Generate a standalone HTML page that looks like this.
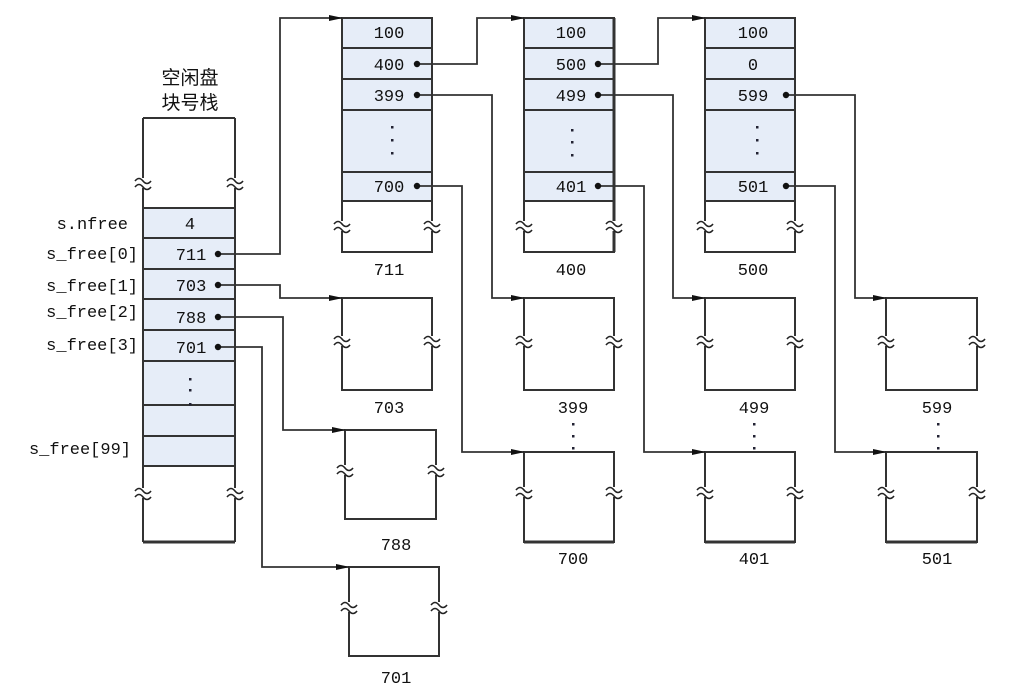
<!DOCTYPE html>
<html><head><meta charset="utf-8"><style>
html,body{margin:0;padding:0;background:#fff;}
svg{display:block;}
text{font-family:"Liberation Mono","Noto Sans CJK SC",monospace;font-size:17px;fill:#111;}
.c{text-anchor:middle;}
.r{text-anchor:end;}
</style></head><body>
<svg width="1022" height="693" viewBox="0 0 1022 693" xmlns="http://www.w3.org/2000/svg">
<defs>
<g id="br"><rect x="-8" y="-5" width="16" height="10" fill="#fff"/><path d="M-8,-2 q4,-5 8,0 t8,0 M-8,4 q4,-5 8,0 t8,0" fill="none" stroke="#222" stroke-width="1.6"/></g>
<marker id="ah" markerWidth="14" markerHeight="8" refX="13" refY="4" orient="auto" markerUnits="userSpaceOnUse"><path d="M0,1 L14,4 L0,7 z" fill="#111"/></marker>
</defs>
<g stroke="#333" stroke-width="2" fill="none">
<rect x="143" y="208" width="92" height="258" fill="#e6edf8" stroke="none"/>
<path d="M143,118 H235 M143,118 V542 M235,118 V542 M143,542 H235" />
<path d="M143,208H235 M143,238H235 M143,269H235 M143,299H235 M143,330H235 M143,361H235 M143,405H235 M143,436H235 M143,466H235"/>
<path d="M143,542 H235" stroke-width="3"/>
<rect x="342" y="18" width="90" height="183" fill="#e6edf8" stroke="none"/>
<path d="M342,18H432V252H342Z M342,48H432 M342,79H432 M342,110H432 M342,172H432 M342,201H432"/>
<rect x="524" y="18" width="90" height="183" fill="#e6edf8" stroke="none"/>
<path d="M524,18H614V252H524Z M524,48H614 M524,79H614 M524,110H614 M524,172H614 M524,201H614"/>
<path d="M614,18V252" stroke-width="3"/>
<rect x="705" y="18" width="90" height="183" fill="#e6edf8" stroke="none"/>
<path d="M705,18H795V252H705Z M705,48H795 M705,79H795 M705,110H795 M705,172H795 M705,201H795"/>
<path d="M342,298H432V390H342Z"/>
<path d="M345,430H436V519H345Z"/>
<path d="M349,567H439V656H349Z"/>
<path d="M524,298H614V390H524Z"/>
<path d="M524,452H614V542H524Z"/>
<path d="M705,298H795V390H705Z"/>
<path d="M705,452H795V542H705Z"/>
<path d="M886,298H977V390H886Z"/>
<path d="M886,452H977V542H886Z"/>
<path d="M524,542H614 M705,542H795 M886,542H977" stroke-width="3"/>
</g>
<g>
<use href="#br" x="143" y="183"/><use href="#br" x="235" y="183"/>
<use href="#br" x="143" y="493"/><use href="#br" x="235" y="493"/>
<use href="#br" x="342" y="226"/><use href="#br" x="432" y="226"/>
<use href="#br" x="524" y="226"/><use href="#br" x="614" y="226"/>
<use href="#br" x="705" y="226"/><use href="#br" x="795" y="226"/>
<use href="#br" x="342" y="341"/><use href="#br" x="432" y="341"/>
<use href="#br" x="345" y="470"/><use href="#br" x="436" y="470"/>
<use href="#br" x="349" y="607"/><use href="#br" x="439" y="607"/>
<use href="#br" x="524" y="341"/><use href="#br" x="614" y="341"/>
<use href="#br" x="524" y="492"/><use href="#br" x="614" y="492"/>
<use href="#br" x="705" y="341"/><use href="#br" x="795" y="341"/>
<use href="#br" x="705" y="492"/><use href="#br" x="795" y="492"/>
<use href="#br" x="886" y="341"/><use href="#br" x="977" y="341"/>
<use href="#br" x="886" y="492"/><use href="#br" x="977" y="492"/>
</g>
<g stroke="#333" stroke-width="1.8" fill="none" marker-end="url(#ah)">
<path d="M218,254H280V18H342"/>
<path d="M218,285H280V298H342"/>
<path d="M218,317H283V430H345"/>
<path d="M218,347H262V567H349"/>
<path d="M417,64H477V18H524"/>
<path d="M417,95H492V298H524"/>
<path d="M417,186H462V452H524"/>
<path d="M598,64H658V18H705"/>
<path d="M598,95H673V298H705"/>
<path d="M598,186H644V452H705"/>
<path d="M786,95H855V298H886"/>
<path d="M786,186H835V452H886"/>
</g>
<g fill="#111">
<circle cx="218" cy="254" r="3.2"/><circle cx="218" cy="285" r="3.2"/><circle cx="218" cy="317" r="3.2"/><circle cx="218" cy="347" r="3.2"/>
<circle cx="417" cy="64" r="3.2"/><circle cx="417" cy="95" r="3.2"/><circle cx="417" cy="186" r="3.2"/>
<circle cx="598" cy="64" r="3.2"/><circle cx="598" cy="95" r="3.2"/><circle cx="598" cy="186" r="3.2"/>
<circle cx="786" cy="95" r="3.2"/><circle cx="786" cy="186" r="3.2"/>
</g>
<g fill="#223">
<rect x="189" y="378" width="2.5" height="2.5"/><rect x="189" y="389" width="2.5" height="2.5"/><rect x="189" y="403" width="2.5" height="2.5"/>
<rect x="391" y="126" width="2.5" height="2.5"/><rect x="391" y="139" width="2.5" height="2.5"/><rect x="391" y="152" width="2.5" height="2.5"/>
<rect x="571" y="129" width="2.5" height="2.5"/><rect x="571" y="141" width="2.5" height="2.5"/><rect x="571" y="154" width="2.5" height="2.5"/>
<rect x="756" y="126" width="2.5" height="2.5"/><rect x="756" y="139" width="2.5" height="2.5"/><rect x="756" y="152" width="2.5" height="2.5"/>
<rect x="572" y="423" width="2.5" height="2.5"/><rect x="572" y="435" width="2.5" height="2.5"/><rect x="572" y="447" width="2.5" height="2.5"/>
<rect x="753" y="423" width="2.5" height="2.5"/><rect x="753" y="435" width="2.5" height="2.5"/><rect x="753" y="447" width="2.5" height="2.5"/>
<rect x="937" y="423" width="2.5" height="2.5"/><rect x="937" y="435" width="2.5" height="2.5"/><rect x="937" y="447" width="2.5" height="2.5"/>
</g>
<text x="190" y="84" class="c" style="font-family:'Noto Sans CJK SC',sans-serif;font-size:19px">空闲盘</text>
<text x="190" y="109" class="c" style="font-family:'Noto Sans CJK SC',sans-serif;font-size:19px">块号栈</text>
<text x="128" y="229" class="r">s.nfree</text>
<text x="138" y="259" class="r">s_free[0]</text>
<text x="138" y="291" class="r">s_free[1]</text>
<text x="138" y="317" class="r">s_free[2]</text>
<text x="138" y="350" class="r">s_free[3]</text>
<text x="131" y="454" class="r">s_free[99]</text>
<text x="190" y="229" class="c">4</text>
<text x="191" y="260" class="c">711</text>
<text x="191" y="291" class="c">703</text>
<text x="191" y="323" class="c">788</text>
<text x="191" y="353" class="c">701</text>
<text x="389" y="38" class="c">100</text><text x="389" y="70" class="c">400</text><text x="389" y="101" class="c">399</text><text x="389" y="192" class="c">700</text>
<text x="571" y="38" class="c">100</text><text x="571" y="70" class="c">500</text><text x="571" y="101" class="c">499</text><text x="571" y="192" class="c">401</text>
<text x="753" y="38" class="c">100</text><text x="753" y="70" class="c">0</text><text x="753" y="101" class="c">599</text><text x="753" y="192" class="c">501</text>
<text x="389" y="275" class="c">711</text>
<text x="571" y="275" class="c">400</text>
<text x="753" y="275" class="c">500</text>
<text x="389" y="413" class="c">703</text>
<text x="396" y="550" class="c">788</text>
<text x="396" y="683" class="c">701</text>
<text x="573" y="413" class="c">399</text>
<text x="573" y="564" class="c">700</text>
<text x="754" y="413" class="c">499</text>
<text x="754" y="564" class="c">401</text>
<text x="937" y="413" class="c">599</text>
<text x="937" y="564" class="c">501</text>
</svg>
</body></html>
